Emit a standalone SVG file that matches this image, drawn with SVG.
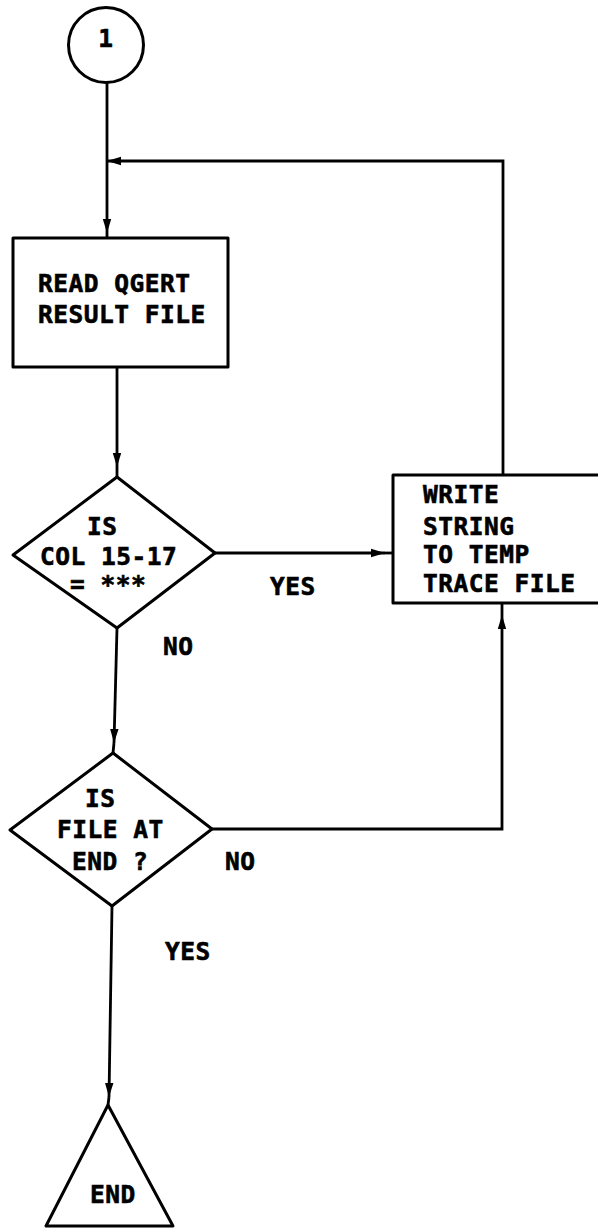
<svg xmlns="http://www.w3.org/2000/svg" width="598" height="1228" viewBox="0 0 598 1228">
  <style>
    .shape { fill: none; stroke: #000; stroke-width: 3; stroke-linejoin: round; }
    .conn { fill: none; stroke: #000; stroke-width: 2.8; }
    .lbl { font-family: "DejaVu Sans Mono", "Liberation Mono", monospace; font-weight: bold; font-size: 24.5px; letter-spacing: 0.5px; fill: #000; stroke: #000; stroke-width: 0.6; }
  </style>
  <defs>
    <marker id="arr" markerUnits="userSpaceOnUse" markerWidth="16" markerHeight="12" refX="14" refY="5" orient="auto">
      <path d="M0,0.8 L14,5 L0,9.2 Z" fill="#000"/>
    </marker>
  </defs>
  <rect width="598" height="1228" fill="#fff"/>

  <g id="connectors">
    <path class="conn" d="M107,83 L107,233" marker-end="url(#arr)"/>
    <path class="conn" d="M107,233 L107,239"/>
    <path class="conn" d="M503,475 L503,161 L107,161" marker-end="url(#arr)"/>
    <path class="conn" d="M117,367 L117,467" marker-end="url(#arr)"/>
    <path class="conn" d="M117,467 L117,477"/>
    <path class="conn" d="M215,553 L385,553" marker-end="url(#arr)"/>
    <path class="conn" d="M385,553 L393,553"/>
    <path class="conn" d="M117,628 L114,743" marker-end="url(#arr)"/>
    <path class="conn" d="M114,743 L113,753"/>
    <path class="conn" d="M212,829 L502,829 L502,615" marker-end="url(#arr)"/>
    <path class="conn" d="M502,615 L502,603"/>
    <path class="conn" d="M112,906 L109,1097" marker-end="url(#arr)"/>
    <path class="conn" d="M109,1097 L108,1105"/>
  </g>

  <g id="start">
    <circle class="shape" cx="106" cy="45" r="37.5"/>
    <text class="lbl" x="106" y="47" text-anchor="middle">1</text>
  </g>

  <g id="read">
    <rect class="shape" x="13" y="238" width="215" height="129"/>
    <text class="lbl" x="38" y="292">READ QGERT</text>
    <text class="lbl" x="38" y="323">RESULT FILE</text>
  </g>

  <g id="decision1">
    <polygon class="shape" points="117,477 215,553 117,628 13,555"/>
    <text class="lbl" x="87" y="535">IS</text>
    <text class="lbl" x="40" y="565">COL 15-17</text>
    <text class="lbl" x="70" y="593">= ***</text>
  </g>

  <g id="write">
    <rect class="shape" x="393" y="475" width="220" height="128"/>
    <text class="lbl" x="423" y="503">WRITE</text>
    <text class="lbl" x="423" y="535">STRING</text>
    <text class="lbl" x="423" y="563">TO TEMP</text>
    <text class="lbl" x="423" y="592">TRACE FILE</text>
  </g>

  <g id="decision2">
    <polygon class="shape" points="113,753 212,829 112,906 10,830"/>
    <text class="lbl" x="85" y="807">IS</text>
    <text class="lbl" x="57" y="838">FILE AT</text>
    <text class="lbl" x="72" y="870">END ?</text>
  </g>

  <g id="end">
    <polygon class="shape" points="108,1105 173,1226 46,1226"/>
    <text class="lbl" x="90" y="1203">END</text>
  </g>

  <g id="labels">
    <text class="lbl" x="270" y="595">YES</text>
    <text class="lbl" x="163" y="655">NO</text>
    <text class="lbl" x="225" y="870">NO</text>
    <text class="lbl" x="165" y="960">YES</text>
  </g>
</svg>
